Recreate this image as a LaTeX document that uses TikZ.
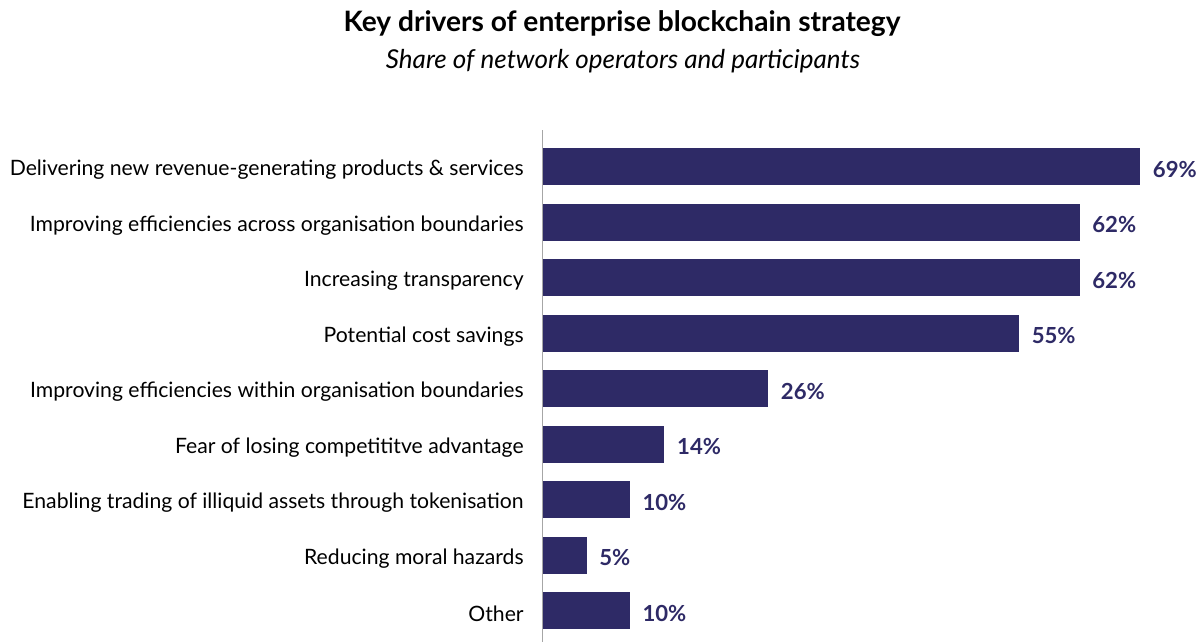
\documentclass[tikz,border=0pt]{standalone}
\usepackage{fontspec}
\setmainfont{Lato}
\usepackage{tikz}
\usetikzlibrary{positioning}
\definecolor{barblue}{HTML}{2E2A66}
\definecolor{axisgray}{HTML}{A6A6A6}

\begin{document}
\begin{tikzpicture}[bar/.style={rectangle, fill=barblue, inner sep=0pt, minimum height=7.4mm, anchor=west},
		cat/.style={font=\fontsize{12.05}{14}\selectfont, text=black, inner sep=0pt, anchor=east, yshift=-0.7mm},
		val/.style={font=\fontsize{12.6}{15}\selectfont\bfseries, text=barblue, inner sep=0pt, anchor=west, yshift=-0.6mm},
		pct/.style={minimum width=#1*1.73mm}]
		\useasboundingbox (0,0) rectangle (24.06,-12.84);
		\node[font=\fontsize{16}{19}\selectfont\bfseries] (title) at (12.44,-0.48) {Key drivers of enterprise blockchain strategy};
		\node[font=\fontsize{14.8}{17}\selectfont\itshape] (subtitle) at (12.46,-1.23) {Share of network operators and participants};
		
		\node[bar, pct=69] (1) at (10.86,-3.33) {};
		\node[bar, pct=62] (2) at (10.86,-4.44) {};
		\node[bar, pct=62] (3) at (10.86,-5.55) {};
		\node[bar, pct=55] (4) at (10.86,-6.66) {};
		\node[bar, pct=26] (5) at (10.86,-7.77) {};
		\node[bar, pct=14] (6) at (10.86,-8.88) {};
		\node[bar, pct=10] (7) at (10.86,-9.99) {};
		\node[bar, pct=5] (8) at (10.86,-11.10) {};
		\node[bar, pct=10] (9) at (10.86,-12.21) {};
		\draw[axisgray, thin] (10.84,-2.6) coordinate (top) -- (10.84,-12.84) coordinate (bottom);
		
		\node[cat, left=3.8mm of 1.west] (c1) {Delivering new revenue-generating products \& services};
		\node[cat, left=3.8mm of 2.west] (c2) {Improving efficiencies across organisation boundaries};
		\node[cat, left=3.8mm of 3.west] (c3) {Increasing transparency};
		\node[cat, left=3.8mm of 4.west] (c4) {Potential cost savings};
		\node[cat, left=3.8mm of 5.west] (c5) {Improving efficiencies within organisation boundaries};
		\node[cat, left=3.8mm of 6.west] (c6) {Fear of losing competititve advantage};
		\node[cat, left=3.8mm of 7.west] (c7) {Enabling trading of illiquid assets through tokenisation};
		\node[cat, left=3.8mm of 8.west] (c8) {Reducing moral hazards};
		\node[cat, left=3.8mm of 9.west] (c9) {Other};
		
		\node[val, right=2.4mm of 1.east] (v1) {69\%};
		\node[val, right=2.4mm of 2.east] (v2) {62\%};
		\node[val, right=2.4mm of 3.east] (v3) {62\%};
		\node[val, right=2.4mm of 4.east] (v4) {55\%};
		\node[val, right=2.4mm of 5.east] (v5) {26\%};
		\node[val, right=2.4mm of 6.east] (v6) {14\%};
		\node[val, right=2.4mm of 7.east] (v7) {10\%};
		\node[val, right=2.4mm of 8.east] (v8) {5\%};
		\node[val, right=2.4mm of 9.east] (v9) {10\%};
		
	\end{tikzpicture}
\end{document}
